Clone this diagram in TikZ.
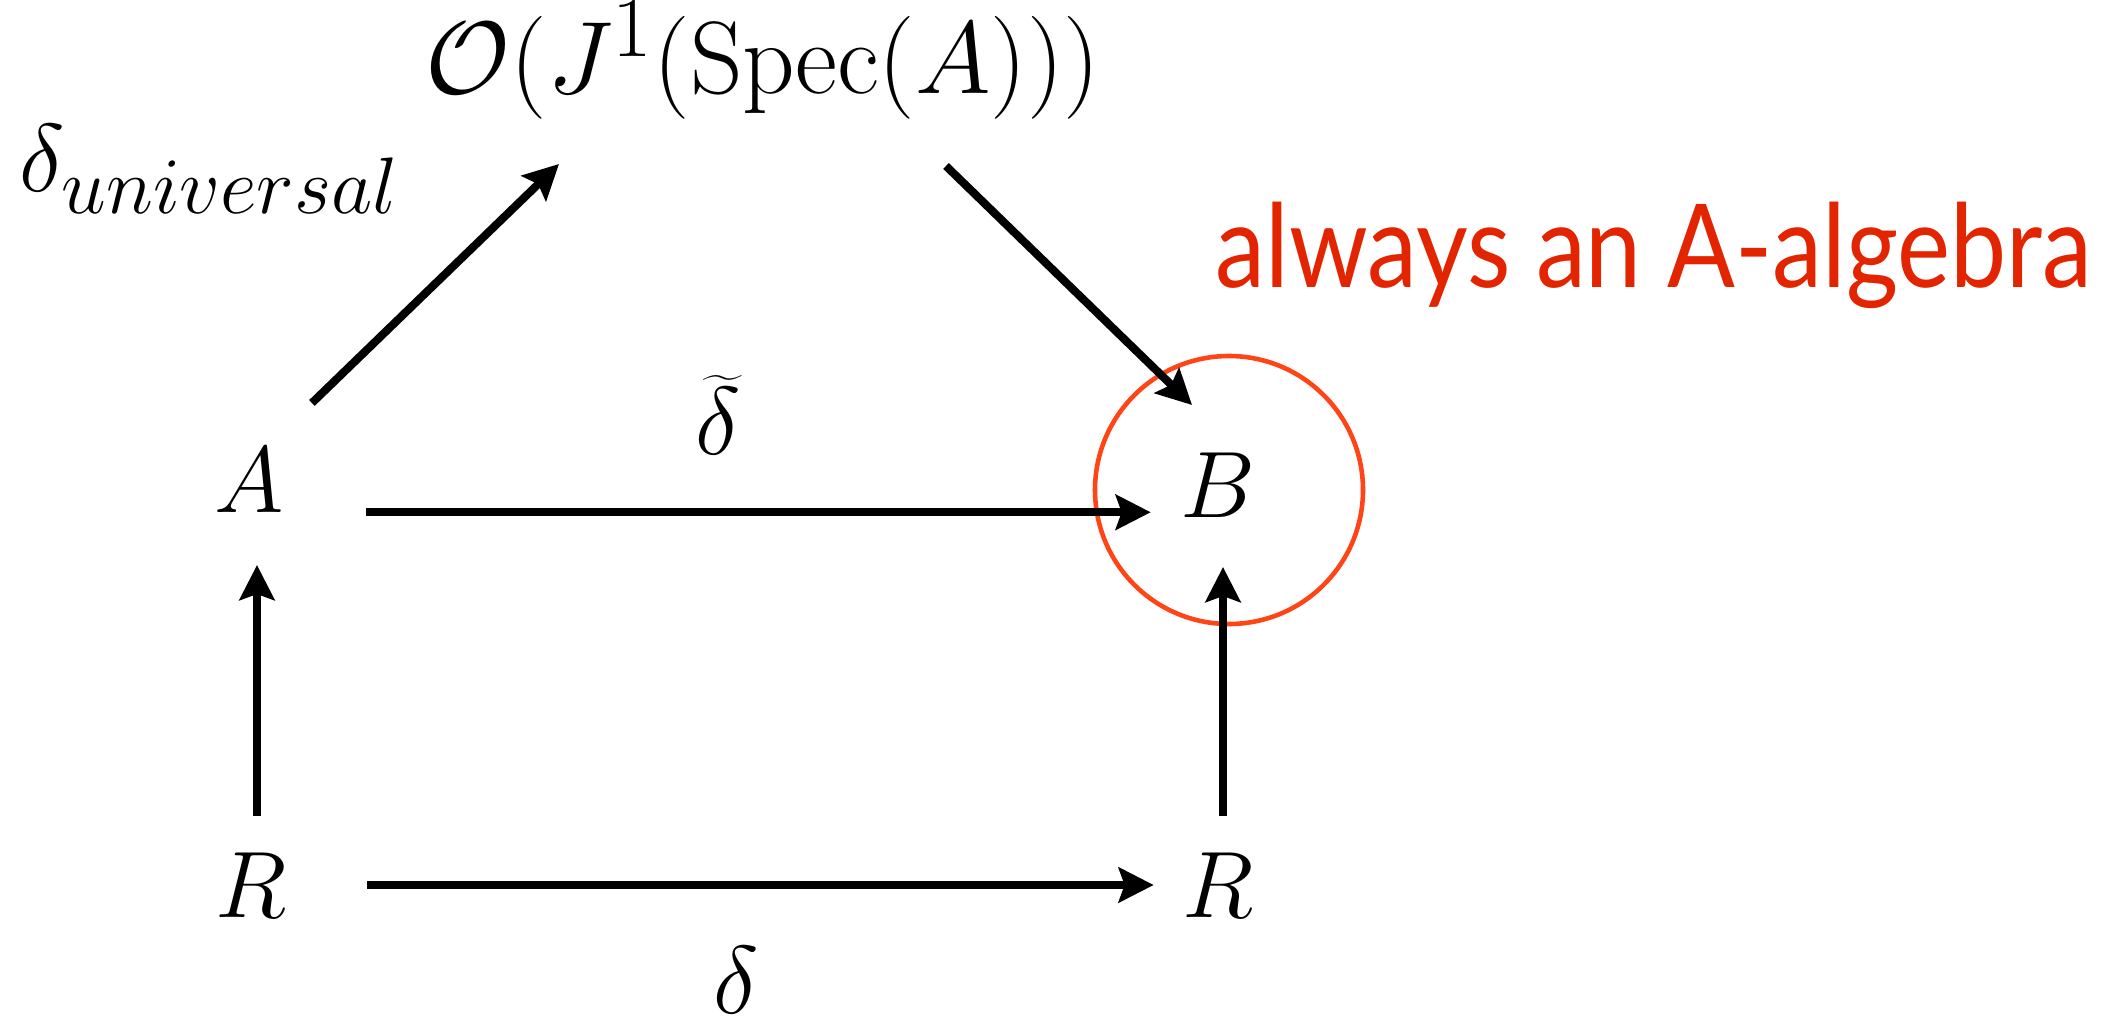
\documentclass[tikz,border=0pt]{standalone}
\usepackage{fontspec}
\newfontfamily\notefont{Lato}
\usetikzlibrary{arrows.meta,calc}
\usepackage{xcolor}
\definecolor{noteRed}{RGB}{226,36,0}
\definecolor{ringRed}{RGB}{255,68,22}

\begin{document}
\begin{tikzpicture}[
    obj/.style={font=\Huge, inner sep=0pt, scale=1.08, transform shape},
    lbl/.style={font=\Huge, inner sep=0pt, scale=1.1, transform shape},
    arrow/.style={-{Stealth[length=3.5mm, width=3.5mm, inset=0.6mm]}, line width=2.3pt},
    note/.style={font=\notefont\fontsize{33}{39}\selectfont, text=noteRed, inner sep=0pt, anchor=base west, xscale=0.865, transform shape},
    ring/.style={draw=ringRed, circle, line width=1.3pt, minimum size=2.68cm, inner sep=0pt}
]
\useasboundingbox (0,0) rectangle (21.24,10.21);

% objects of the square
\node[obj] (A) at (2.49,5.41) {$A$};
\node[obj] (B) at (12.18,5.36) {$B$};
\node[obj] (Rl) at (2.51,1.36) {$R$};
\node[obj] (Rr) at (12.18,1.36) {$R$};
\node[obj, scale=1.09] (jet) at (7.63,9.61) {$\mathcal{O}(J^1(\mathrm{Spec}(A)))$};

% labels
\node[lbl] (univ) at (2.10,8.52) {$\delta_{universal}$};
\node[lbl] (tdelta) at (7.18,6.06) {$\widetilde{\delta}$};
\node[lbl] (bdelta) at (7.36,0.41) {$\delta$};

% the highlighted target
\node[ring] (circ) at (12.29,5.31) {};
\node[note] (alg) at (12.15,7.34) {always an A-algebra};

\draw[arrow, shorten <=0.82cm, shorten >=0.29cm] (A.base east) -- (A.base east -| B.west);
\draw[arrow, shorten <=0.80cm, shorten >=0.28cm] (Rl.east) -- (Rr.west);

\draw[arrow, shorten <=0.36cm, shorten >=0.52cm] ([xshift=0.6mm]Rl.north) -- ([xshift=0.6mm]Rl.north |- A.south);
\draw[arrow, shorten <=0.36cm, shorten >=0.49cm] ([xshift=0.5mm]Rr.north) -- ([xshift=0.5mm]Rr.north |- B.south);

\draw[arrow] ($(A.north east)+(0.275,0.44)$) -- ($(jet.south)+(-2.04,-0.44)$);
\draw[arrow] ($(jet.south)+(1.83,-0.46)$) -- ($(B.north)+(-0.26,0.47)$);
\end{tikzpicture}
\end{document}
